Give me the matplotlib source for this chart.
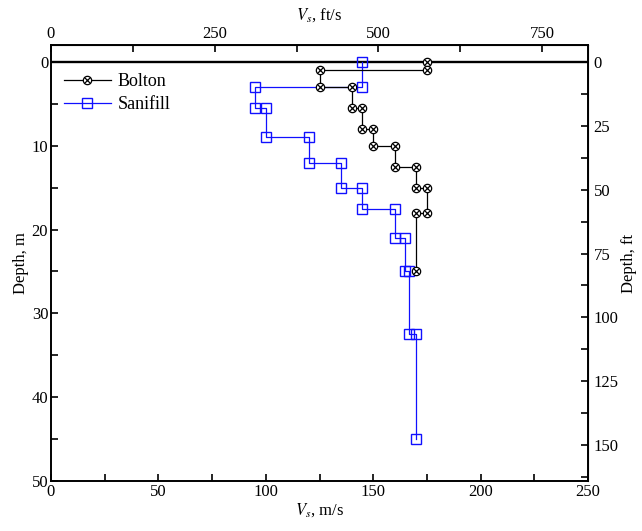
import matplotlib
matplotlib.use("Agg")
import matplotlib.pyplot as plt
from matplotlib.lines import Line2D
from matplotlib.ticker import MultipleLocator

# step profiles of shear-wave velocity vs depth (m/s, m)
bolton_vs = [175, 175, 125, 125, 140, 140, 145, 145, 150, 150,
             160, 160, 170, 170, 175, 175, 170, 170]
bolton_depth = [0, 1, 1, 3, 3, 5.5, 5.5, 8, 8, 10,
                10, 12.5, 12.5, 15, 15, 18, 18, 25]

sanifill_vs = [145, 145, 95, 95, 100, 100, 120, 120, 135, 135,
               145, 145, 160, 160, 165, 165, 166.5, 166.5, 170, 170]
sanifill_depth = [0, 3, 3, 5.5, 5.5, 9, 9, 12, 12, 15,
                  15, 17.5, 17.5, 21, 21, 25, 25, 32.5, 32.5, 45]

FT = 0.3048


def m2ft(x):
    return x / FT


def ft2m(x):
    return x * FT


plt.rcParams["font.family"] = ["Liberation Serif", "DejaVu Serif"]
plt.rcParams["mathtext.fontset"] = "stix"
plt.rcParams["font.size"] = 12

fig = plt.figure(figsize=(6.42, 5.31), dpi=100)
ax = fig.add_axes([0.0794, 0.094, 0.8366, 0.821])

ax.axhline(0, color="black", lw=1.7, zorder=1)

ax.plot(bolton_vs, bolton_depth, color="black", lw=0.9, marker="o",
        ms=6, mfc="white", mec="black", mew=0.9, label="Bolton", zorder=3)
# X inside the Bolton circles
ax.plot(bolton_vs, bolton_depth, ls="none", marker="x", ms=4.5, mec="black",
        mew=0.9, zorder=4)
ax.plot(sanifill_vs, sanifill_depth, color="#1010ff", lw=0.9, marker="s",
        ms=7, mfc="none", mec="#1010ff", mew=1.0, label="Sanifill", zorder=2)

ax.set_xlim(0, 250)
ax.set_ylim(50, -2)
ax.xaxis.set_major_locator(MultipleLocator(50))
ax.xaxis.set_minor_locator(MultipleLocator(25))
ax.yaxis.set_major_locator(MultipleLocator(10))
ax.yaxis.set_minor_locator(MultipleLocator(5))
ax.tick_params(which="both", direction="in", length=5, width=1.2, pad=2)
for s in ax.spines.values():
    s.set_linewidth(1.4)

ax.set_xlabel(r"$V_s$, m/s", labelpad=1)
ax.set_ylabel("Depth, m", labelpad=2)

top = ax.secondary_xaxis("top", functions=(m2ft, ft2m))
top.xaxis.set_major_locator(MultipleLocator(250))
top.xaxis.set_minor_locator(MultipleLocator(125))
top.tick_params(which="both", direction="in", length=5, width=1.2, pad=2)
top.set_xlabel(r"$V_s$, ft/s", labelpad=5)

right = ax.secondary_yaxis("right", functions=(m2ft, ft2m))
right.yaxis.set_major_locator(MultipleLocator(25))
right.yaxis.set_minor_locator(MultipleLocator(12.5))
right.tick_params(which="both", direction="in", length=5, width=1.2, pad=4)
right.set_ylabel("Depth, ft", labelpad=2)

# legend handle: circle with X for Bolton
h_b = (Line2D([], [], color="black", lw=0.9, marker="o", ms=6, mfc="white",
              mec="black", mew=0.9),
       Line2D([], [], ls="none", marker="x", ms=4.5, mec="black", mew=0.9))
h_s = Line2D([], [], color="#1010ff", lw=0.9, marker="s", ms=7, mfc="none",
             mec="#1010ff", mew=1.0)
ax.legend([h_b, h_s], ["Bolton", "Sanifill"], loc="upper left", frameon=False,
          handlelength=2.6, handletextpad=0.4, borderaxespad=0.3,
          labelspacing=0.35, fontsize=13, bbox_to_anchor=(0.0, 0.965))

fig.savefig("out.png", dpi=100)
